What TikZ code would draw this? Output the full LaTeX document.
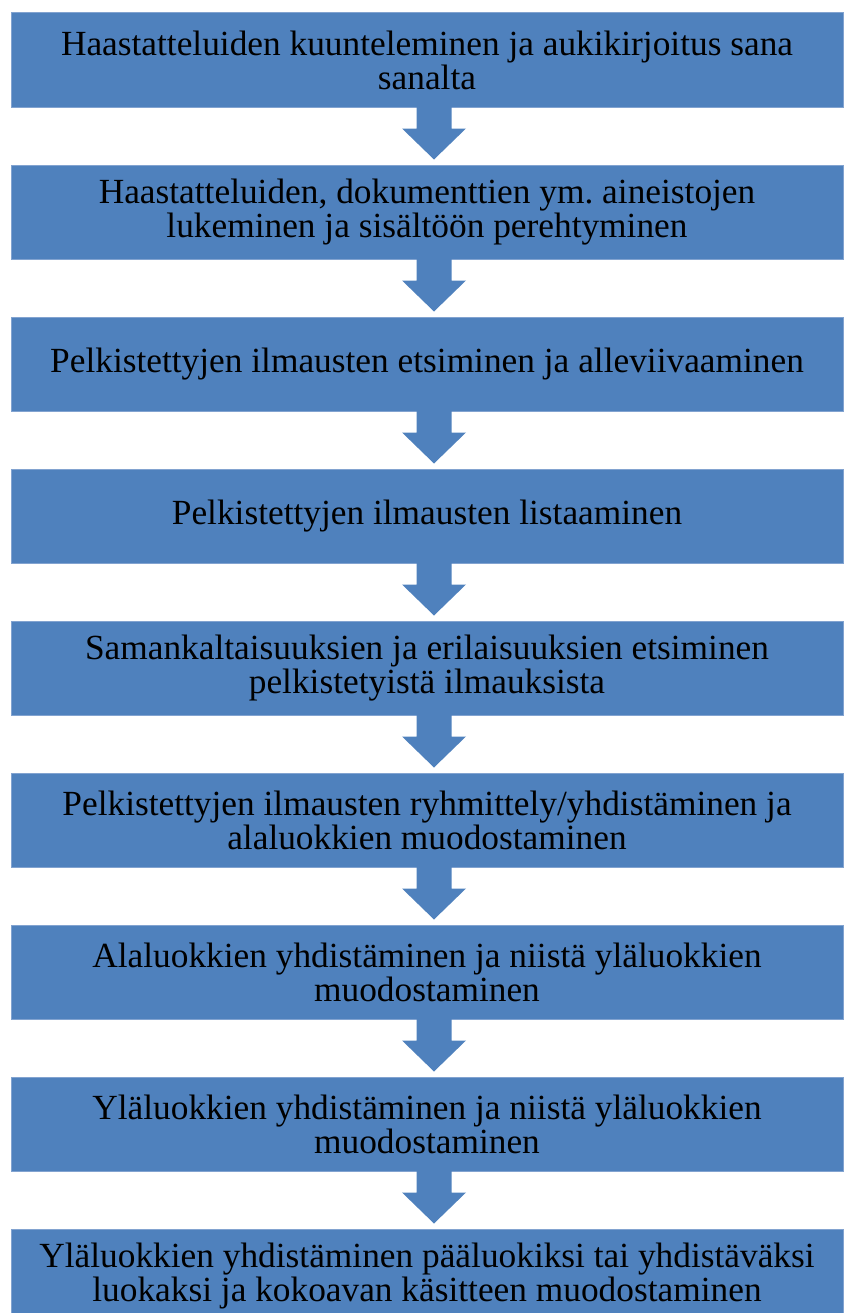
\documentclass[tikz,border=0pt]{standalone}
\usepackage{fontspec}
\setmainfont{Liberation Serif}
\frenchspacing
\usetikzlibrary{calc}
\definecolor{boxblue}{RGB}{79,129,189}
\definecolor{edgeblue}{RGB}{130,163,208}
\tikzset{
  stepbox/.style={fill=boxblue, draw=edgeblue, line width=0.75pt,
    minimum width=832*0.75pt, minimum height=94*0.75pt, inner sep=0pt,
    align=center, font=\fontsize{26.5}{25.5}\selectfont, text=black},
  blockarrow/.style={fill=boxblue, draw=none}
}
\begin{document}
\begin{tikzpicture}[x=0.75pt, y=-0.75pt]
\useasboundingbox (0,0) rectangle (845,1313);
\clip (0,0) rectangle (845,1313);
\node[stepbox] (b1) at (427,60) {Haastatteluiden kuunteleminen ja aukikirjoitus sana\\sanalta};
\node[stepbox] (b2) at (427,212) {Haastatteluiden, dokumenttien ym. aineistojen\\lukeminen ja sisältöön perehtyminen};
\node[stepbox] (b3) at (427,364) {Pelkistettyjen ilmausten etsiminen ja alleviivaaminen};
\node[stepbox] (b4) at (427,516) {Pelkistettyjen ilmausten listaaminen};
\node[stepbox] (b5) at (427,668) {Samankaltaisuuksien ja erilaisuuksien etsiminen\\pelkistetyistä ilmauksista};
\node[stepbox] (b6) at (427,820) {Pelkistettyjen ilmausten ryhmittely/yhdistäminen ja\\alaluokkien muodostaminen};
\node[stepbox] (b7) at (427,972) {Alaluokkien yhdistäminen ja niistä yläluokkien\\muodostaminen};
\node[stepbox] (b8) at (427,1124) {Yläluokkien yhdistäminen ja niistä yläluokkien\\muodostaminen};
\node[stepbox] (b9) at (427,1276) {Yläluokkien yhdistäminen pääluokiksi tai yhdistäväksi\\luokaksi ja kokoavan käsitteen muodostaminen};
\foreach \i in {1,...,8} {
  \fill[blockarrow] ($(b\i.south)+(-10.5,-1)$) -- ($(b\i.south)+(-10.5,21)$)
    -- ($(b\i.south)+(-25,21)$) -- ($(b\i.south)+(7,52)$)
    -- ($(b\i.south)+(39,21)$) -- ($(b\i.south)+(24.5,21)$)
    -- ($(b\i.south)+(24.5,-1)$) -- cycle;
}
\end{tikzpicture}
\end{document}
